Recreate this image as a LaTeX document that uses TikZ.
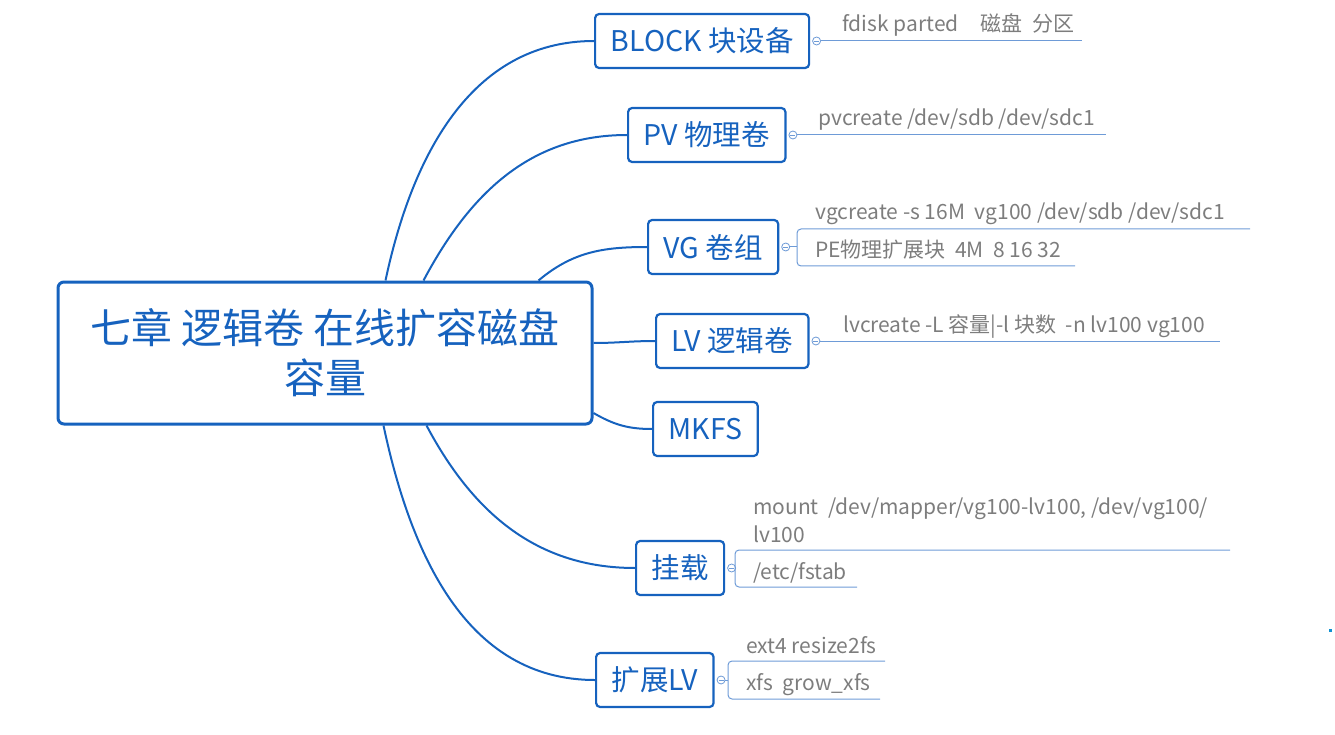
\documentclass[tikz,border=0pt]{standalone}
\usepackage{fontspec}
\newfontfamily\cjk{Noto Sans CJK SC}
\usetikzlibrary{positioning}
\definecolor{mapblue}{RGB}{22,98,190}
\definecolor{leafblue}{RGB}{110,155,215}
\definecolor{leafgray}{RGB}{125,125,125}
\tikzset{
  topic/.style={draw=mapblue, line width=3pt, rounded corners=6pt, text=mapblue,
    font=\cjk\fontsize{41}{50}\selectfont, minimum width=534pt, minimum height=142pt,
    align=center, inner sep=0pt},
  branch/.style={draw=mapblue, line width=2.2pt, rounded corners=4pt, text=mapblue,
    font=\cjk\fontsize{28.5}{34}\selectfont, minimum height=54pt, inner xsep=15.5pt,
    inner ysep=0pt, anchor=west},
  leaf/.style={text=leafgray, font=\cjk\fontsize{21}{28}\selectfont, inner sep=0pt,
    anchor=base west},
  fold/.style={circle, draw=leafblue, line width=0.8pt, minimum size=8pt, inner sep=0pt,
    fill=white, path picture={\draw[leafblue, line width=0.8pt]
      ([xshift=-2.5pt]path picture bounding box.center) --
      ([xshift=2.5pt]path picture bounding box.center);}},
  limb/.style={draw=mapblue, line width=2pt},
  twig/.style={draw=leafblue, line width=1pt},
}

\begin{document}
\begin{tikzpicture}[x=1pt, y=-1pt]
  \useasboundingbox (0,0) rectangle (1335,735);

  % central topic
  \node[topic] (topic) at (325,353) {七章 逻辑卷 在线扩容磁盘\\容量};

  % branches
  \node[branch] (block) at (594,41) {BLOCK 块设备};
  \node[branch] (pv) at (627,135) {PV 物理卷};
  \node[branch] (vg) at (647,247) {VG 卷组};
  \node[branch] (lv) at (655,341) {LV 逻辑卷};
  \node[branch] (mkfs) at (652,429) {MKFS};
  \node[branch] (mount) at (635,568) {挂载};
  \node[branch] (extend) at (595,680) {扩展LV};

  \draw[limb] ([xshift=329pt]topic.north west) to[out=78, in=180] (block.west);
  \draw[limb] ([xshift=367pt]topic.north west) to[out=62, in=180] (pv.west);
  \draw[limb] ([xshift=482pt]topic.north west) to[out=40, in=180] (vg.west);
  \draw[limb] ([yshift=10pt]topic.east) to[out=0, in=180] (lv.west);
  \draw[limb] ([yshift=-60pt]topic.east) to[out=-30, in=180] (mkfs.west);
  \draw[limb] ([xshift=370pt]topic.south west) to[out=-62, in=180] (mount.west);
  \draw[limb] ([xshift=327pt]topic.south west) to[out=-78, in=180] (extend.west);

  % fold markers
  \node[fold, right=2pt of block] (blockfold) {};
  \node[fold, right=2pt of pv] (pvfold) {};
  \node[fold, right=2pt of vg] (vgfold) {};
  \node[fold, right=2pt of lv] (lvfold) {};
  \node[fold, right=2pt of mount] (mountfold) {};
  \node[fold, right=2pt of extend] (extendfold) {};

  % leaves
  \node[leaf] (blockleaf) at (842,32) {fdisk parted\hspace{22pt}磁盘\hspace{10pt}分区};
  \node[leaf] (pvleaf) at (818,126) {pvcreate /dev/sdb /dev/sdc1};
  \node[leaf] (vgleafa) at (815,220) {vgcreate -s 16M\ \ vg100 /dev/sdb /dev/sdc1};
  \node[leaf] (vgleafb) at (815,258) {PE物理扩展块\ \ 4M\ \ 8 16 32};
  \node[leaf] (lvleaf) at (843,332) {lvcreate -L 容量|-l 块数\ \ -n lv100 vg100};
  \node[leaf, align=left] (mountleafa) at (753,542) {mount\ \ /dev/mapper/vg100-lv100, /dev/vg100/\\lv100};
  \node[leaf] (mountleafb) at (753,579) {/etc/fstab};
  \node[leaf] (extendleafa) at (746,653) {ext4 resize2fs};
  \node[leaf] (extendleafb) at (746,690) {xfs\ \ grow\_xfs};

  % underlines
  \coordinate (blockend) at (1082,41);
  \coordinate (pvend) at (1106,135);
  \coordinate (lvend) at (1220,341);
  \draw[twig] (blockfold) -- (blockend);
  \draw[twig] (pvfold) -- (pvend);
  \draw[twig] (lvfold) -- (lvend);

  \coordinate (vgtop) at (797,229);
  \coordinate (vgbot) at (797,266);
  \draw[twig, rounded corners=4pt] (1250,229) -- (vgtop) -- (vgbot) -- (1075,266);
  \draw[twig] (vgfold) -- (vgfold -| vgtop);

  \coordinate (mounttop) at (735,550);
  \coordinate (mountbot) at (735,587);
  \draw[twig, rounded corners=4pt] (1230,550) -- (mounttop) -- (mountbot) -- (857,587);
  \draw[twig] (mountfold) -- (mountfold -| mounttop);

  \coordinate (extendtop) at (728,661);
  \coordinate (extendbot) at (728,699);
  \draw[twig, rounded corners=4pt] (885,661) -- (extendtop) -- (extendbot) -- (880,699);
  \draw[twig] (extendfold) -- (extendfold -| extendtop);

  \fill[mapblue!70!cyan] (1329,629) rectangle (1332,632);
\end{tikzpicture}
\end{document}
